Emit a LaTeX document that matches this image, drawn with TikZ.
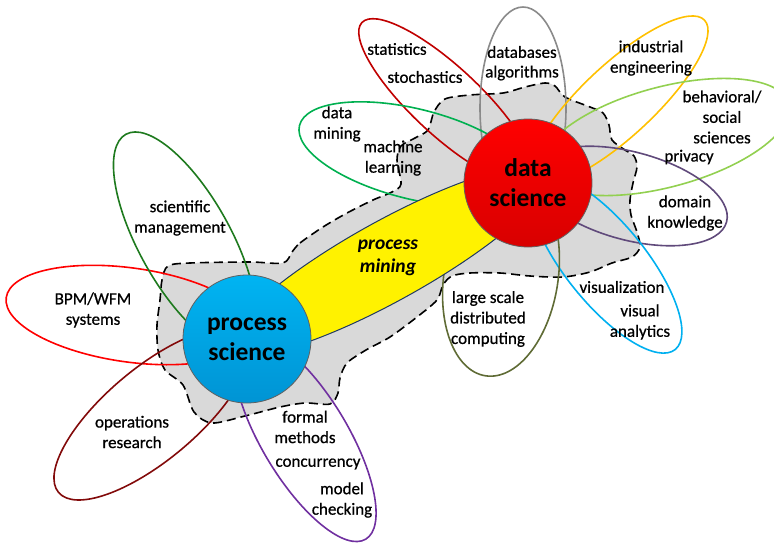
\documentclass[tikz,border=0pt]{standalone}
\usepackage{fontspec}
\setmainfont{Carlito}
\newfontfamily\lblfont{Carlito}[FakeBold=0.7]

\definecolor{cloudgray}{HTML}{D9D9D9}
\definecolor{pmnavy}{HTML}{1F3864}
\definecolor{psblueA}{HTML}{00B4F2}
\definecolor{psblueB}{HTML}{0094D4}
\definecolor{dsredA}{HTML}{FF0000}
\definecolor{dsredB}{HTML}{D80000}
\definecolor{bpmred}{HTML}{FF0000}
\definecolor{scigreen}{HTML}{1E7A1E}
\definecolor{opsred}{HTML}{820A0A}
\definecolor{formpurple}{HTML}{7030A0}
\definecolor{statred}{HTML}{C00000}
\definecolor{dbgray}{HTML}{8A8A8A}
\definecolor{indorange}{HTML}{FFC000}
\definecolor{behgreen}{HTML}{92D050}
\definecolor{dompurple}{HTML}{604A7B}
\definecolor{viscyan}{HTML}{00B0F0}
\definecolor{lsolive}{HTML}{5F6B35}
\definecolor{dmgreen}{HTML}{00B050}

\tikzset{
  petal/.style={line width=1.6pt},
  lbl/.style={font=\lblfont\fontsize{17}{20.5}\selectfont, align=center, inner sep=0pt},
  pmlbl/.style={font=\fontsize{19.5}{23}\selectfont\bfseries\itshape, align=center, inner sep=0pt},
  hub/.style={circle, draw=gray!75!black, line width=0.8pt, minimum size=128pt,
    inner sep=0pt, align=center, font=\fontsize{25.5}{30}\selectfont\bfseries},
}

\begin{document}
\begin{tikzpicture}[x=1pt,y=-1pt]
  \useasboundingbox (0,0) rectangle (774,546);
  \clip (0,0) rectangle (774,546);

  % gray cloud
  \draw[fill=cloudgray, line width=1.6pt, dash pattern=on 9pt off 5pt]
    plot[smooth cycle, tension=0.5] coordinates {
      (292,252) (300,243) (323,227) (347,213) (373,200) (392,192) (401,184)
      (397,160) (401,146) (415,138) (428,130) (434,112) (445,99) (470,95)
      (503,93) (525,87) (545,83) (555,86) (565,97) (590,107) (603,113)
      (609,125) (612,140) (625,150) (634,156) (637,167) (633,183) (630,200)
      (631,215) (637,232) (640,247) (632,257) (612,263) (590,272) (563,277)
      (530,276) (500,273) (470,273) (452,276) (443,285) (437,300) (417,317)
      (390,337) (366,350) (347,363) (340,378) (338,393) (330,404) (305,403)
      (280,407) (245,416) (212,423) (194,412) (183,385) (165,370) (158,350)
      (157,325) (160,300) (162,280) (168,266) (190,263) (250,262) (283,263)};

  % petals of process science
  \draw[petal, bpmred, rotate around={-8:(130,315)}] (130,315) ellipse (125 and 47);
  \draw[petal, scigreen, rotate around={-61:(185,241)}] (185,241) ellipse (122 and 46);
  \draw[petal, opsred, rotate around={40:(152,414)}] (152,414) ellipse (122 and 46);
  \draw[petal, formpurple, rotate around={-59:(305,438)}] (305,438) ellipse (118 and 43);

  % petals of data science
  \draw[petal, statred, rotate around={-43:(446,101)}] (446,101) ellipse (115 and 34);
  \draw[petal, dbgray, rotate around={90:(523,108)}] (523,108) ellipse (101 and 43);
  \draw[petal, indorange, rotate around={43:(619,100)}] (619,100) ellipse (117 and 36);
  \draw[petal, behgreen, rotate around={15:(665,137)}] (665,137) ellipse (128 and 50);
  \draw[petal, dompurple, rotate around={-15:(630,196)}] (630,196) ellipse (100 and 44);
  \draw[petal, viscyan, rotate around={-51:(606,264)}] (606,264) ellipse (110 and 40);
  \draw[petal, lsolive, rotate around={81:(501,277)}] (501,277) ellipse (100 and 57);
  \draw[petal, dmgreen, rotate around={-14:(414,154)}] (414,154) ellipse (118 and 45);

  % process mining
  \draw[fill=yellow, draw=pmnavy, line width=1pt, rotate around={29:(388,261)}]
    (388,261) ellipse (182 and 40);

  \node[hub, top color=psblueA, bottom color=psblueB] (ps) at (247,339) {process\\science};
  \node[hub, top color=dsredA, bottom color=dsredB] (ds) at (528,183) {data\\science};
  \node[pmlbl] (pmin) at (388,258) {process\\mining};

  \node[lbl] (bpm) at (93,310) {BPM/WFM\\systems};
  \node[lbl] (scim) at (180,218) {scientific\\management};
  \node[lbl] (opres) at (132,432) {operations\\research};
  \node[lbl] (formal) at (305,427) {formal\\methods};
  \node[lbl] (conc) at (318,464) {concurrency};
  \node[lbl] (modchk) at (342,500) {model\\checking};

  \node[lbl] (stat) at (397,49) {statistics};
  \node[lbl] (stoch) at (425,77) {stochastics};
  \node[lbl] (db) at (522,52) {databases};
  \node[lbl] (algo) at (522,73) {algorithms};
  \node[lbl] (indeng) at (651,58) {industrial\\engineering};
  \node[lbl] (behav) at (722,117) {behavioral/\\social\\sciences};
  \node[lbl] (priv) at (689,157) {privacy};
  \node[lbl] (domain) at (685,213) {domain\\knowledge};
  \node[lbl] (vis) at (622,287) {visualization};
  \node[lbl] (visan) at (640,322) {visual\\analytics};
  \node[lbl] (lsdc) at (488,319) {large scale\\distributed\\computing};
  \node[lbl] (dmin) at (337,124) {data\\mining};
  \node[lbl] (mlearn) at (393,158) {machine\\learning};
\end{tikzpicture}
\end{document}
